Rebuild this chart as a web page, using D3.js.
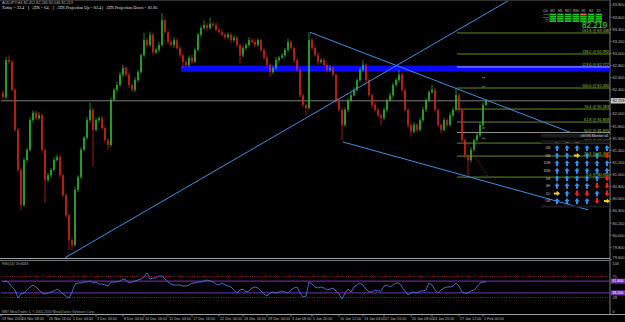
<!DOCTYPE html>
<html><head><meta charset="utf-8">
<script src="https://cdn.jsdelivr.net/npm/d3@7"></script>
<style>html,body{margin:0;padding:0;background:#000;overflow:hidden}svg{display:block}</style>
</head><body><svg id="c" width="625" height="322"></svg>
<script>
// ---------- DATA ----------
const symbolLine = "AUDJPY,H4  82.052 82.240 82.046 82.219";
const atrTexts = ["Today = 32.4", "ATR = 64", "ATR Projection Up = 82.4", "ATR Projection Down = 81.85"];
const firstOpen = 82.35;
const closes = [
82.28,82.89,82.86,82.40,81.74,81.08,80.50,81.24,81.41,81.90,
82.02,81.93,81.98,81.41,80.91,80.99,81.08,81.24,81.29,80.99,
80.66,80.33,79.92,79.84,80.75,80.96,81.41,81.61,81.90,82.07,
81.74,81.90,81.93,81.77,81.57,81.49,82.23,82.40,82.48,82.65,
82.76,82.65,82.48,82.40,82.56,82.69,82.97,83.22,83.14,83.31,
83.02,83.06,83.14,83.55,83.35,83.19,83.14,83.22,83.09,82.97,
82.86,82.81,82.93,82.86,83.06,83.31,83.42,83.47,83.42,83.49,
83.47,83.39,83.35,83.31,83.27,83.31,83.22,83.26,83.14,82.97,
83.09,83.14,83.22,83.19,83.14,83.22,83.06,82.93,82.81,82.69,
82.76,82.89,82.93,82.97,83.06,83.19,83.09,82.89,82.73,82.31,
82.15,82.10,83.22,83.09,82.97,82.86,82.89,82.81,82.73,82.76,
82.65,82.23,82.07,81.82,82.07,82.23,82.31,82.40,82.56,82.73,
82.81,82.56,82.31,82.15,82.07,81.98,81.93,82.07,82.23,82.31,
82.48,82.56,82.65,82.40,82.07,81.82,81.71,81.82,81.74,81.90,
82.07,82.23,82.36,82.40,82.07,81.82,81.74,81.90,81.82,81.98,
82.07,82.31,82.07,81.57,81.32,81.24,81.41,81.57,81.65,81.82,
82.15,82.219];
const hiExt = [
4,5,8,3,2,3,2,4,3,5, 4,3,5,3,2,4,3,5,4,3, 2,3,2,4,5,3,4,3,5,12,
3,4,3,5,2,3,4,3,5,4, 5,3,4,3,5,4,3,12,4,5, 3,4,5,12,3,4,3,5,3,4,
3,4,3,5,4,3,4,8,3,10, 3,4,3,5,3,4,3,4,3,2, 4,3,5,3,4,3,2,3,4,3,
4,5,3,4,3,5,3,2,3,2, 3,2,13,4,3,5,3,4,3,5, 3,2,3,2,4,3,5,4,3,4,
8,3,2,3,4,3,2,4,3,5, 4,3,8,3,2,3,2,4,3,4, 5,3,4,8,3,2,3,4,3,5,
4,12,3,2,3,2,4,3,5,4, 4,3];
const loExt = [
3,4,3,2,3,4,8,3,4,3, 4,3,2,5,38,3,4,3,2,4, 3,4,16,8,3,4,3,2,3,4,
61,3,4,3,5,8,3,2,4,3, 4,3,5,3,4,3,2,3,4,3, 5,3,4,3,2,4,3,5,3,4,
10,3,4,3,2,3,4,3,5,3, 4,3,2,3,4,3,5,3,4,13, 3,4,3,2,4,3,4,3,5,8,
3,4,3,2,3,4,3,5,3,4, 4,12,3,4,3,5,3,2,4,3, 4,5,3,25,3,4,3,2,3,4,
3,4,3,5,3,4,12,3,4,3, 4,3,3,4,3,5,8,3,4,3, 3,4,3,2,4,3,5,3,4,3,
4,3,5,3,4,28,4,3,2,3, 3,2];
const rsi = [
60,62,58,50,44,28,36,38,44,50, 54,50,44,38,36,38,40,42,46,42,
36,32,28,40,56,58,58,60,60,62, 58,60,56,56,54,52,60,60,60,62,
66,64,58,60,62,64,66,70,78,66, 68,68,72,72,66,60,56,54,54,54,
52,52,54,58,58,60,60,62,64,62, 60,56,54,58,54,52,50,44,38,44,
46,40,42,48,50,48,42,36,32,38, 40,38,40,42,40,38,44,48,50,38,
30,32,60,56,50,48,50,48,44,46, 48,42,36,26,38,46,40,50,54,58,
54,46,40,40,44,42,42,52,54,50, 54,58,58,50,42,34,38,40,38,42,
42,44,58,54,44,38,44,48,50,50, 52,58,52,40,38,38,42,44,50,58,
60,60];
const priceTickLabels = ["83.800","83.600","83.400","83.200","83.000","82.800","82.600","82.400","82.200","82.000","81.800",
  "81.600","81.400","81.200","81.000","80.800","80.600","80.400","80.200","80.000","79.800","79.600"];
const timeLabels = ["19 Nov 2010","24 Nov 08:00","26 Nov 16:00","1 Dec 04:00","3 Dec 16:00","8 Dec 04:00","10 Dec 16:00",
  "15 Dec 04:00","17 Dec 16:00","22 Dec 04:00","24 Dec 16:00","29 Dec 04:00","3 Jan 08:00","5 Jan 20:00","10 Jan 12:00",
  "13 Jan 04:00","17 Jan 16:00","20 Jan 08:00","24 Jan 20:00","27 Jan 12:00","1 Feb 00:00"];
const timeLabelBars = [-1,6,15,23,31,40,47,55,63,72,80,88,96,103,112,120,127,136,143,152,160];
// trend lines: [bar1, price1, bar2, price2, extendRight]
const trendLines = [
  [20.7, 79.63, 136, 82.94, true],
  [102.3, 83.35, 189, 81.70, false],
  [113.3, 81.54, 195, 80.42, false]
];
const zoneTop = 82.80, zoneBottom = 82.70, zoneStartBar = 59.3;
const fibLow = 80.96, fibHigh = 82.43, fibStartBar = 151.3;
const fibLevels = [0, 23.6, 38.2, 50, 61.8, 76.4, 100, 123.6, 138.2, 161.8];
const projLine = [154.7, 81.52, 161.7, 80.96];
const markPrices = [82.60, 82.45, 81.77, 81.60];
const markBar = 160;
const currentPrice = 82.219;
const rsiLevelsDotted = [71, 29];
const rsiLevelsSolid = [61.8, 38.2];
const rsiAxisLabels = [100, 71, 29, 0];
const rsiTitle = "RSI(14) 59.8263";
const copyright = "MBT MetaTrader 4, \u00a9 2001-2010 MetaQuotes Software Corp.";
const gridCols = ["M1","M5","M15","M30","H1","H4","D1"];
const gridRows = ["Macd","Stoch","RSI","MA"];
const gridStates = ["GGGGRGG","GGGGGGG","GGGGGGG","GGGGGGG"];
const sigTitle = "xSIGN Monitor v4";
const sigCols = ["MA","RSI","CCI","STO","MACD","SAR"];
const sigHeaderShown = ["MA","RSI","CCI"];
const sigRows = ["1M:","5M:","15M:","30M:","1H:","4H:","1D:","1W:"];
const sigStates = ["UUUUUU","UUSUUD","UUUUUU","UUUUUU","UUUUUD","UUUUDD","SUDDUD","UUUUDS"];

// ---------- LAYOUT ----------
const svg = d3.select("#c");
const W = 625, H = 322;
const plotR = 610, mainTop = 1, mainBot = 258.5, rsiTop = 260.5, rsiBot = 314.5;
const x = d3.scaleLinear().domain([0, closes.length - 1]).range([3, 486]);
const y = d3.scaleLinear().domain([79.6, 83.8]).range([259.5, 5]);
const yr = d3.scaleLinear().domain([0, 100]).range([312, 262]);
const FONT = "Arial, 'Liberation Sans', sans-serif";

svg.append("rect").attr("width", W).attr("height", H).attr("fill", "#000");
const defs = svg.append("defs");
defs.append("clipPath").attr("id", "mainClip").append("rect")
  .attr("x", 1).attr("y", mainTop).attr("width", plotR - 1).attr("height", mainBot - mainTop);
defs.append("clipPath").attr("id", "rsiClip").append("rect")
  .attr("x", 1).attr("y", rsiTop).attr("width", plotR - 1).attr("height", rsiBot - rsiTop);

// frames
const frameC = "#7a7a7a";
svg.append("line").attr("x1", plotR).attr("x2", plotR).attr("y1", 0).attr("y2", rsiBot).attr("stroke", frameC).attr("stroke-width", 1);
svg.append("line").attr("x1", 0).attr("x2", plotR).attr("y1", mainBot).attr("y2", mainBot).attr("stroke", "#9aa6a6").attr("stroke-width", 1);
svg.append("line").attr("x1", 0).attr("x2", plotR).attr("y1", rsiTop).attr("y2", rsiTop).attr("stroke", "#6a7474").attr("stroke-width", 1);
svg.append("line").attr("x1", 0).attr("x2", W).attr("y1", rsiBot).attr("y2", rsiBot).attr("stroke", "#9aa6a6").attr("stroke-width", 1);
svg.append("line").attr("x1", 0).attr("x2", plotR).attr("y1", 0.5).attr("y2", 0.5).attr("stroke", "#333").attr("stroke-width", 1);

const main = svg.append("g").attr("clip-path", "url(#mainClip)");

// blue zone
main.append("rect").attr("x", x(zoneStartBar)).attr("y", y(zoneTop))
  .attr("width", plotR - x(zoneStartBar)).attr("height", y(zoneBottom) - y(zoneTop)).attr("fill", "#0a0aff");

// current price line
main.append("line").attr("x1", 0).attr("x2", plotR).attr("y1", y(currentPrice)).attr("y2", y(currentPrice))
  .attr("stroke", "#7c7c7c").attr("stroke-width", 1);

// fib levels
const fibG = main.append("g");
fibLevels.forEach(l => {
  const p = fibLow + (fibHigh - fibLow) * l / 100;
  const col = l === 123.6 ? "#b8c0ff" : (l === 50 ? "#a0a8a0" : "#6f9a2a");
  fibG.append("line").attr("x1", x(fibStartBar)).attr("x2", plotR).attr("y1", y(p)).attr("y2", y(p))
    .attr("stroke", col).attr("stroke-width", 0.9);
  fibG.append("text").attr("x", plotR - 1).attr("y", y(p) - 0.8).attr("text-anchor", "end")
    .attr("font-family", FONT).attr("font-size", 3.8).attr("fill", "#9acd32")
    .text(`${l.toFixed(1)} @ ${p.toFixed(3)}`);
});

// candles
const cg = main.append("g");
closes.forEach((c, i) => {
  const o = i === 0 ? firstOpen : closes[i - 1];
  const hi = Math.max(o, c) + hiExt[i] / 100;
  const lo = Math.min(o, c) - loExt[i] / 100;
  const bull = c >= o;
  const col = bull ? "#2ec22e" : "#e3231b";
  cg.append("line").attr("x1", x(i)).attr("x2", x(i)).attr("y1", y(hi)).attr("y2", y(lo))
    .attr("stroke", col).attr("stroke-width", 0.7);
  const top = y(Math.max(o, c)), bot = y(Math.min(o, c));
  cg.append("rect").attr("x", x(i) - 0.7).attr("y", top).attr("width", 1.4)
    .attr("height", Math.max(0.8, bot - top)).attr("fill", col);
});

// trend lines
trendLines.forEach(t => {
  let [b1, p1, b2, p2, ext] = t;
  let X1 = x(b1), Y1 = y(p1), X2 = x(b2), Y2 = y(p2);
  if (ext) { const s = (Y2 - Y1) / (X2 - X1); X2 = X1 + (mainTop - 2 - Y1) / s; Y2 = mainTop - 2; }
  main.append("line").attr("x1", X1).attr("y1", Y1).attr("x2", X2).attr("y2", Y2)
    .attr("stroke", "#3d8fe6").attr("stroke-width", 1);
});

// projection dotted line
main.append("line").attr("x1", x(projLine[0])).attr("y1", y(projLine[1])).attr("x2", x(projLine[2])).attr("y2", y(projLine[3]))
  .attr("stroke", "#c0281e").attr("stroke-width", 0.9).attr("stroke-dasharray", "1,1.5");
markPrices.forEach(p => {
  main.append("line").attr("x1", x(markBar) - 1).attr("x2", x(markBar) + 2).attr("y1", y(p)).attr("y2", y(p))
    .attr("stroke", "#8a8a8a").attr("stroke-width", 0.8);
});

// header text
svg.append("text").attr("x", 2).attr("y", 4.2).attr("font-family", FONT).attr("font-size", 3.8)
  .attr("fill", "#b8b8b8").text(symbolLine);
const atrX = [2, 32, 57, 106];
atrTexts.forEach((t, i) => {
  svg.append("text").attr("x", atrX[i]).attr("y", 8.8).attr("font-family", "'Liberation Serif', serif")
    .attr("font-size", 4.2).attr("fill", "#e0e0e0").text(t);
  if (i > 0) svg.append("text").attr("x", atrX[i] - 4).attr("y", 8.8).attr("font-family", FONT)
    .attr("font-size", 4.2).attr("fill", "#e0e0e0").text("|");
});

// top-right indicator grid
const gx = d3.scaleBand().domain(gridCols).range([549.5, 602]).paddingInner(0.15);
const gy = d3.scaleBand().domain(gridRows).range([13.6, 22]).paddingInner(0.2);
const gridG = svg.append("g");
gridG.append("text").attr("x", 543).attr("y", 12.3).attr("font-family", FONT).attr("font-size", 3.2).attr("fill", "#bbb").text("Chi");
gridCols.forEach(c => gridG.append("text").attr("x", gx(c) + gx.bandwidth() / 2).attr("y", 12.3)
  .attr("text-anchor", "middle").attr("font-family", FONT).attr("font-size", 3.2).attr("fill", "#bbb").text(c));
gridRows.forEach((r, ri) => {
  gridG.append("text").attr("x", 549).attr("y", gy(r) + gy.bandwidth()).attr("text-anchor", "end")
    .attr("font-family", FONT).attr("font-size", 2.4).attr("fill", "#bbb").text(r);
  gridCols.forEach((c, ci) => {
    const st = gridStates[ri][ci];
    gridG.append("rect").attr("x", gx(c)).attr("y", gy(r)).attr("width", gx.bandwidth()).attr("height", gy.bandwidth())
      .attr("fill", st === "R" ? "#ff5a5a" : "#19c21e");
  });
});
svg.append("text").attr("x", 607).attr("y", 28).attr("text-anchor", "end").attr("font-family", FONT)
  .attr("font-size", 8.2).attr("fill", "#18ff18").text(currentPrice.toFixed(3));

// signal monitor
const sg = svg.append("g");
sg.append("rect").attr("x", 541).attr("y", 134).attr("width", plotR - 541).attr("height", 3.5).attr("fill", "#1c1c1c");
sg.append("text").attr("x", 608).attr("y", 137).attr("text-anchor", "end").attr("font-family", FONT)
  .attr("font-size", 3.5).attr("fill", "#c8c8c8").text(sigTitle);
sg.append("rect").attr("x", 541).attr("y", 140).attr("width", plotR - 541).attr("height", 3.5).attr("fill", "#161616");
sg.append("rect").attr("x", 541).attr("y", 205.5).attr("width", plotR - 541).attr("height", 2).attr("fill", "#1c1c1c");
const sx = d3.scalePoint().domain(sigCols).range([557, 607]);
const sy = d3.scalePoint().domain(sigRows).range([148, 201]);
sigHeaderShown.forEach(c => sg.append("text").attr("x", sx(c)).attr("y", 143).attr("text-anchor", "middle")
  .attr("font-family", FONT).attr("font-size", 2.4).attr("fill", "#bbb").text(c));
const upPath = "M0,-3L2.6,0.2L1,0.2L1,3L-1,3L-1,0.2L-2.6,0.2Z";
sigRows.forEach((r, ri) => {
  sg.append("text").attr("x", 551).attr("y", sy(r) + 1.3).attr("text-anchor", "end")
    .attr("font-family", FONT).attr("font-size", 3.4).attr("fill", "#c0c0c0").text(r);
  sigCols.forEach((c, ci) => {
    const st = sigStates[ri][ci];
    const rot = st === "U" ? 0 : (st === "D" ? 180 : 90);
    const col = st === "U" ? "#2a8ff0" : (st === "D" ? "#f01d1d" : "#f0d020");
    sg.append("path").attr("d", upPath).attr("fill", col)
      .attr("transform", `translate(${sx(c)},${sy(r)}) rotate(${rot})`);
  });
});

// right price axis
priceTickLabels.forEach(t => {
  const ty = Math.min(y(+t) + 1.4, 258.6);
  svg.append("text").attr("x", 612.5).attr("y", ty).attr("font-family", FONT).attr("font-size", 3.9)
    .attr("fill", "#bfbfbf").text(t);
  svg.append("line").attr("x1", plotR).attr("x2", plotR + 1.5).attr("y1", y(+t)).attr("y2", y(+t)).attr("stroke", frameC);
});
svg.append("rect").attr("x", 611).attr("y", y(currentPrice) - 2.7).attr("width", 14).attr("height", 5.4).attr("fill", "#c4c8cc");
svg.append("text").attr("x", 612.5).attr("y", y(currentPrice) + 1.4).attr("font-family", FONT).attr("font-size", 3.9)
  .attr("fill", "#000").text(currentPrice.toFixed(3));

// RSI panel
const rg = svg.append("g").attr("clip-path", "url(#rsiClip)");
rsiLevelsDotted.forEach(v => rg.append("line").attr("x1", 0).attr("x2", plotR).attr("y1", yr(v)).attr("y2", yr(v))
  .attr("stroke", "#a82020").attr("stroke-width", 0.9).attr("stroke-dasharray", "1,1.4"));
rsiLevelsSolid.forEach(v => rg.append("line").attr("x1", 0).attr("x2", plotR).attr("y1", yr(v)).attr("y2", yr(v))
  .attr("stroke", "#7436b4").attr("stroke-width", 1));
rg.append("path").datum(rsi).attr("fill", "none").attr("stroke", "#4f6fd8").attr("stroke-width", 0.9)
  .attr("d", d3.line().x((d, i) => x(i)).y(d => yr(d)));
svg.append("text").attr("x", 2).attr("y", 265).attr("font-family", FONT).attr("font-size", 3.6).attr("fill", "#b0b0b0").text(rsiTitle);
rsiAxisLabels.forEach(v => svg.append("text").attr("x", 612.5).attr("y", Math.max(yr(v) + 1.4, 264.8)).attr("font-family", FONT)
  .attr("font-size", 3.9).attr("fill", "#bfbfbf").text(v));
rsiLevelsSolid.forEach(v => {
  svg.append("rect").attr("x", 611).attr("y", yr(v) - 2.5).attr("width", 14).attr("height", 5).attr("fill", "#7436b4");
  svg.append("text").attr("x", 612.2).attr("y", yr(v) + 1.3).attr("font-family", FONT).attr("font-size", 3.6)
    .attr("fill", "#fff").text(v.toFixed(3));
});
svg.append("text").attr("x", 2).attr("y", 312.5).attr("font-family", FONT).attr("font-size", 3.4).attr("fill", "#a0a0a0").text(copyright);

// time axis
timeLabels.forEach((t, i) => {
  const tx = Math.max(1, x(timeLabelBars[i]));
  svg.append("line").attr("x1", tx).attr("x2", tx).attr("y1", rsiBot).attr("y2", rsiBot + 2).attr("stroke", frameC);
  svg.append("text").attr("x", tx + 1).attr("y", 319.5).attr("font-family", FONT).attr("font-size", 3.7)
    .attr("fill", "#bfbfbf").text(t);
});
</script></body></html>
